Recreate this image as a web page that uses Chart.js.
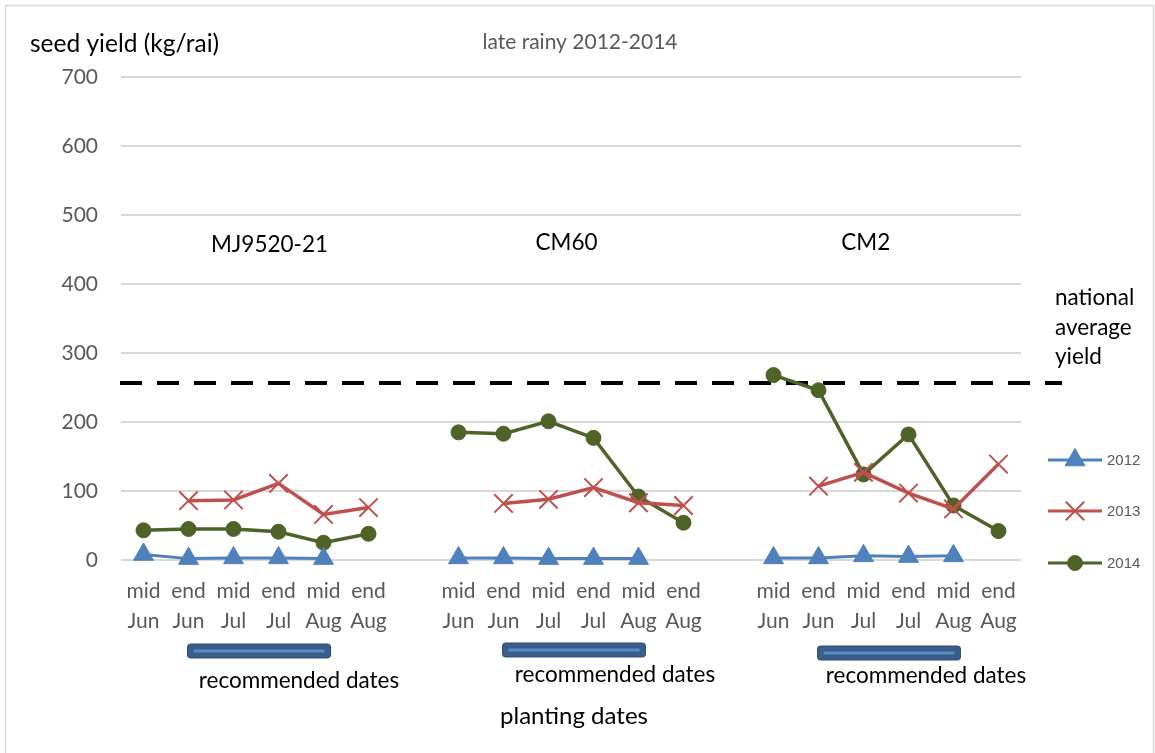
<!DOCTYPE html>
<html>
<head>
<meta charset="utf-8">
<script src="https://cdn.jsdelivr.net/npm/chart.js@4.4.0/dist/chart.umd.min.js"></script>
<style>
  html, body { margin: 0; padding: 0; background: #fff; }
  #wrap { width: 1155px; height: 753px; position: relative; }
</style>
</head>
<body>
<div id="wrap"><canvas id="myChart" width="1155" height="753"></canvas></div>
<script>
// planting dates, three varieties with an empty slot between groups
var categories = [
  'mid Jun', 'end Jun', 'mid Jul', 'end Jul', 'mid Aug', 'end Aug', '',
  'mid Jun', 'end Jun', 'mid Jul', 'end Jul', 'mid Aug', 'end Aug', '',
  'mid Jun', 'end Jun', 'mid Jul', 'end Jul', 'mid Aug', 'end Aug'
];
var varieties = ['MJ9520-21', 'CM60', 'CM2'];

var yield2012 = [8, 2, 3, 3, 2, null, null, 3, 3, 2, 2, 2, null, null, 3, 3, 6, 5, 6, null];
var yield2013 = [null, 86, 87, 111, 66, 76, null, null, 82, 88, 105, 83, 79, null, null, 107, 127, 97, 74, 139];
var yield2014 = [43, 45, 45, 41, 25, 38, null, 185, 183, 201, 177, 92, 54, null, 268, 246, 124, 182, 79, 42];

var nationalAverage = 257;
var yMin = 0, yMax = 700, yStep = 100;

var seriesNames = ['2012', '2013', '2014'];
var seriesColors = ['#4f81bd', '#c0504d', '#4f6228'];

var FONT = 'Lato, "Open Sans", sans-serif';

var extras = {
  id: 'extras',
  beforeDatasetsDraw: function(chart) {
    var ctx = chart.ctx, y = chart.scales.y;
    var py = Math.round(y.getPixelForValue(nationalAverage));
    ctx.save();
    ctx.strokeStyle = '#000';
    ctx.lineWidth = 4;
    ctx.setLineDash([22, 15]);
    ctx.beginPath();
    ctx.moveTo(120, py);
    ctx.lineTo(1062, py);
    ctx.stroke();
    ctx.restore();
  },
  afterDraw: function(chart) {
    var ctx = chart.ctx, x = chart.scales.x;
    ctx.save();
    // frame
    ctx.strokeStyle = '#d9d9d9';
    ctx.lineWidth = 1.5;
    ctx.strokeRect(5.5, 5.5, 1148, 800);

    ctx.textBaseline = 'middle';
    ctx.fillStyle = '#000';
    ctx.font = '24.5px ' + FONT;
    ctx.textAlign = 'left';
    ctx.fillText('seed yield (kg/rai)', 30, 44);

    ctx.fillStyle = '#595959';
    ctx.font = '21px ' + FONT;
    ctx.textAlign = 'center';
    ctx.fillText('late rainy 2012-2014', 580, 42);

    // variety names
    ctx.fillStyle = '#000';
    ctx.font = '22.5px ' + FONT;
    var nameAt = [[2.8, 245], [9.4, 243], [16.05, 243]];
    varieties.forEach(function(v, i) {
      ctx.fillText(v, x.getPixelForValue(nameAt[i][0]), nameAt[i][1]);
    });

    // national average label
    ctx.textAlign = 'left';
    ctx.font = '22.5px ' + FONT;
    ctx.fillText('national', 1055, 298);
    ctx.fillText('average', 1055, 328);
    ctx.fillText('yield', 1055, 357);

    // recommended dates bars (end Jun .. mid Aug of each group)
    var recs = [[1, 4, 644, 299, 681], [8, 11, 643, 615, 675], [15, 18, 646, 926, 676]];
    recs.forEach(function(r) {
      var x1 = x.getPixelForValue(r[0]) - 1;
      var x2 = x.getPixelForValue(r[1]) + 7;
      ctx.beginPath();
      ctx.roundRect(x1, r[2], x2 - x1, 14, 3);
      ctx.fillStyle = '#3a5e8c';
      ctx.fill();
      ctx.strokeStyle = '#2f4d74';
      ctx.lineWidth = 1;
      ctx.stroke();
      ctx.beginPath();
      ctx.strokeStyle = '#5b8ac4';
      ctx.lineWidth = 3;
      ctx.moveTo(x1 + 6, r[2] + 7);
      ctx.lineTo(x2 - 6, r[2] + 7);
      ctx.stroke();
      ctx.fillStyle = '#000';
      ctx.textAlign = 'center';
      ctx.font = '22.5px ' + FONT;
      ctx.fillText('recommended dates', r[3], r[4]);
    });

    ctx.font = '24px ' + FONT;
    ctx.fillText('planting dates', 574, 716);

    // legend
    var legY = [460, 511, 563];
    chart.data.datasets.forEach(function(ds, i) {
      ctx.strokeStyle = ds.borderColor;
      ctx.lineWidth = 3;
      ctx.beginPath();
      ctx.moveTo(1048, legY[i]);
      ctx.lineTo(1102, legY[i]);
      ctx.stroke();
      ctx.fillStyle = ds.borderColor;
      ctx.lineWidth = ds.pointBorderWidth;
      Chart.helpers.drawPoint(ctx, {
        pointStyle: ds.pointStyle,
        radius: ds.pointRadius,
        borderWidth: ds.pointBorderWidth,
        rotation: 0
      }, 1075, legY[i]);
      ctx.fillStyle = '#595959';
      ctx.font = '15px "Liberation Sans", Arial, sans-serif';
      ctx.textAlign = 'left';
      ctx.fillText(ds.label, 1107, legY[i] + 1);
    });
    ctx.restore();
  }
};

var ctx = document.getElementById('myChart');
var myChart = new Chart(ctx, {
  type: 'line',
  data: {
    labels: categories.map(function(c) { return c ? c.split(' ') : ''; }),
    datasets: [
      {
        label: seriesNames[0],
        data: yield2012,
        borderColor: seriesColors[0],
        backgroundColor: seriesColors[0],
        borderWidth: 3,
        pointStyle: 'triangle',
        pointRadius: 11.5,
        pointBorderWidth: 1,
        clip: false
      }, {
        label: seriesNames[1],
        data: yield2013,
        borderColor: seriesColors[1],
        backgroundColor: seriesColors[1],
        borderWidth: 3.5,
        pointStyle: 'crossRot',
        pointRadius: 13,
        pointBorderWidth: 2,
        clip: false
      }, {
        label: seriesNames[2],
        data: yield2014,
        borderColor: seriesColors[2],
        backgroundColor: seriesColors[2],
        borderWidth: 3.5,
        pointStyle: 'circle',
        pointRadius: 7.5,
        pointBorderWidth: 1,
        clip: false
      }
    ]
  },
  options: {
    responsive: false,
    animation: false,
    devicePixelRatio: 1,
    spanGaps: false,
    layout: { padding: { top: 77, right: 134, left: 0, bottom: 0 } },
    plugins: {
      legend: { display: false },
      tooltip: { enabled: false }
    },
    scales: {
      x: {
        offset: true,
        grid: { display: false },
        border: { display: false },
        ticks: {
          color: '#595959',
          font: { family: FONT, size: 21, lineHeight: 1.45 },
          padding: 8,
          maxRotation: 0,
          autoSkip: false
        },
        afterFit: function(scale) { scale.height = 193; }
      },
      y: {
        min: yMin,
        max: yMax,
        grid: { color: '#d9d9d9', lineWidth: 2, drawTicks: false },
        border: { display: false },
        ticks: {
          stepSize: yStep,
          color: '#595959',
          font: { family: FONT, size: 21 },
          padding: 23
        },
        afterFit: function(scale) { scale.width = 121; }
      }
    }
  },
  plugins: [extras]
});
</script>
</body>
</html>
